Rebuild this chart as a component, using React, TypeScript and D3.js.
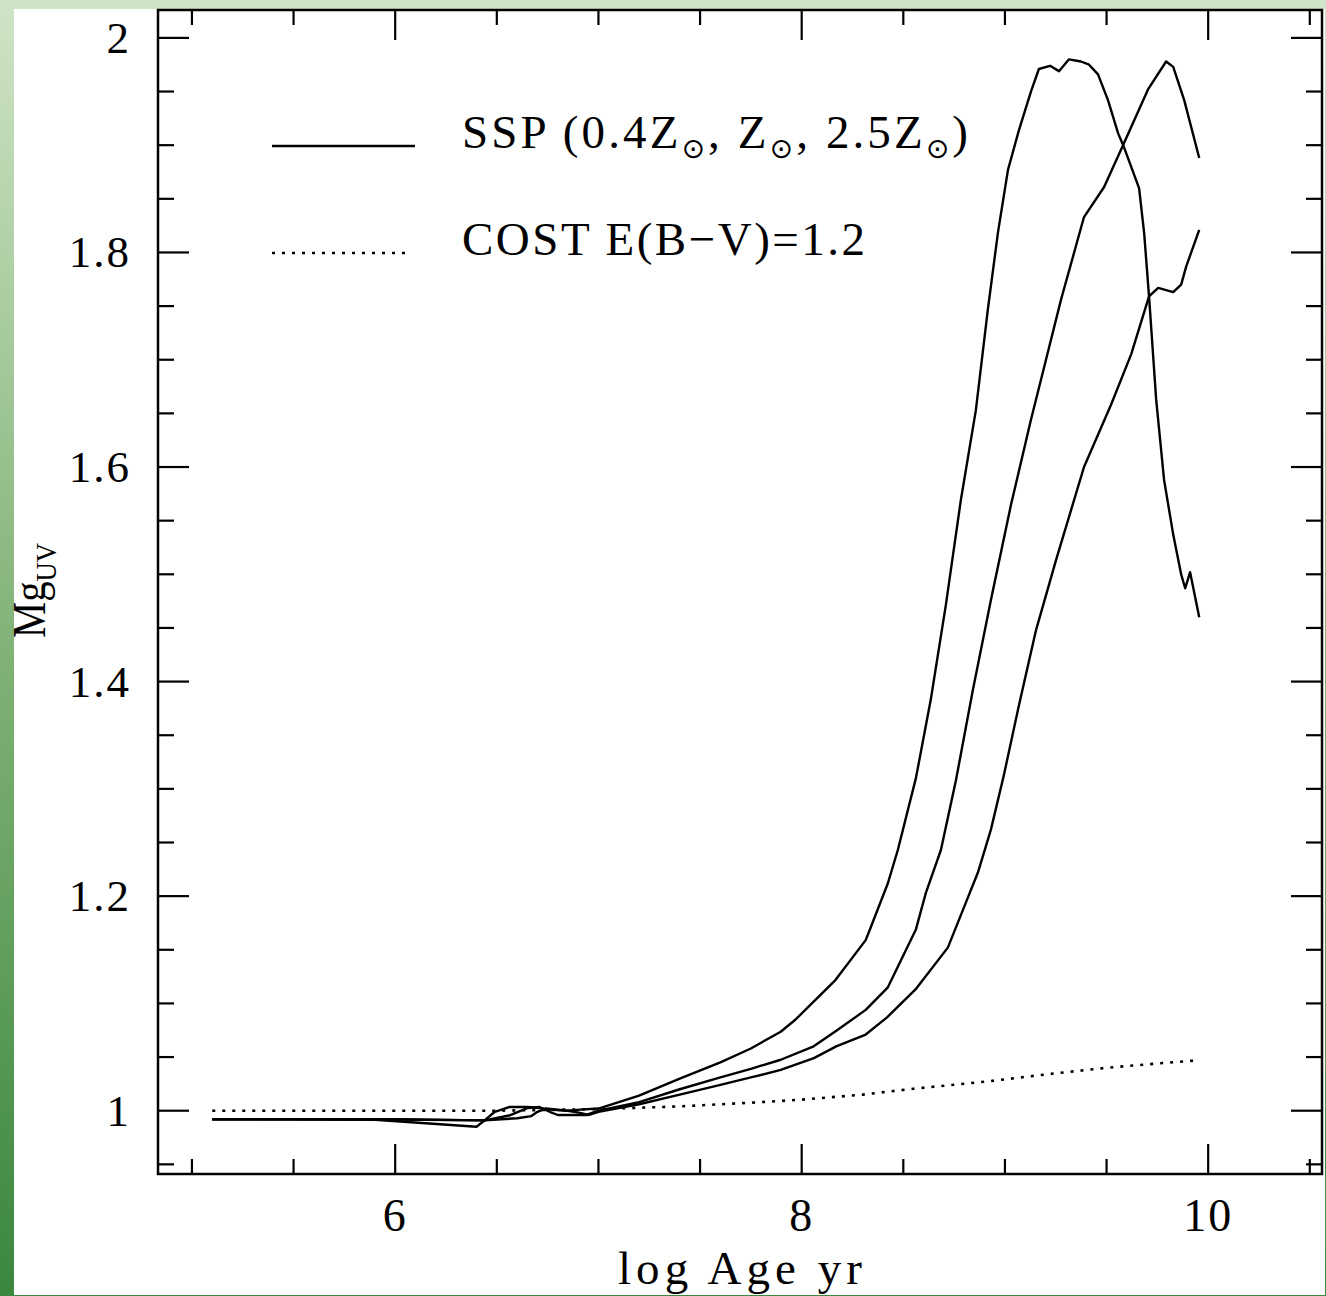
import React, { useEffect } from "react";
import * as d3 from "d3";

// ---- data (log Age yr, Mg_UV) ----
const ageA = [5.1, 5.5, 5.9, 6.4, 6.44, 6.49, 6.56, 6.65, 6.71, 6.76, 6.85, 6.91, 7.0, 7.2, 7.4, 7.6, 7.75,
  7.897, 7.97, 8.167, 8.315, 8.34, 8.424, 8.473, 8.562, 8.635, 8.709, 8.783, 8.857, 8.916, 8.966, 9.015, 9.069,
  9.128, 9.167, 9.222, 9.266, 9.315, 9.374, 9.414, 9.458, 9.507, 9.557, 9.586, 9.66, 9.685, 9.709, 9.744,
  9.783, 9.828, 9.867, 9.887, 9.911, 9.956];
const mgA = [0.992, 0.992, 0.9916, 0.985, 0.991, 0.999, 1.0034, 1.0034, 1.0025, 1.001, 1.0, 1.001, 1.002, 1.014,
  1.03, 1.045, 1.058, 1.0736, 1.085, 1.122, 1.159, 1.171, 1.212, 1.243, 1.31, 1.383, 1.471, 1.569, 1.653, 1.747,
  1.819, 1.877, 1.914, 1.95, 1.971, 1.974, 1.969, 1.98, 1.978, 1.975, 1.966, 1.942, 1.911, 1.898, 1.86, 1.818,
  1.759, 1.663, 1.588, 1.537, 1.5, 1.487, 1.502, 1.46];

const ageB = [5.1, 6.0, 6.44, 6.56, 6.65, 6.71, 6.76, 6.8, 6.94, 7.0, 7.2, 7.4, 7.6, 7.75, 7.897, 8.059, 8.167,
  8.315, 8.424, 8.562, 8.611, 8.685, 8.759, 8.842, 8.931, 9.03, 9.128, 9.202, 9.276, 9.389, 9.488, 9.586, 9.704,
  9.793, 9.828, 9.882, 9.956];
const mgB = [0.992, 0.992, 0.991, 0.9955, 1.0025, 1.0034, 0.999, 0.996, 0.996, 1.0, 1.008, 1.02, 1.031, 1.039,
  1.0475, 1.06, 1.074, 1.094, 1.115, 1.169, 1.203, 1.243, 1.308, 1.392, 1.476, 1.565, 1.644, 1.7, 1.756, 1.833,
  1.861, 1.902, 1.952, 1.978, 1.973, 1.942, 1.888];

const ageC = [5.1, 6.0, 6.44, 6.6, 6.67, 6.7, 6.74, 6.85, 6.91, 6.95, 7.0, 7.2, 7.4, 7.6, 7.75, 7.897, 8.06, 8.17,
  8.315, 8.42, 8.56, 8.719, 8.793, 8.867, 8.931, 8.995, 9.069, 9.153, 9.251, 9.389, 9.522, 9.621, 9.709, 9.754,
  9.828, 9.867, 9.892, 9.956];
const mgC = [0.992, 0.9918, 0.991, 0.993, 0.995, 0.999, 1.002, 1.0, 0.998, 0.996, 0.999, 1.006, 1.015, 1.024,
  1.031, 1.038, 1.049, 1.06, 1.071, 1.087, 1.113, 1.152, 1.187, 1.222, 1.262, 1.313, 1.378, 1.448, 1.513, 1.6,
  1.658, 1.705, 1.759, 1.767, 1.763, 1.77, 1.787, 1.821];

const ageCost = [5.1, 6.0, 6.5, 7.0, 7.4, 7.8, 8.0, 8.3, 8.55, 8.9, 9.21, 9.5, 9.75, 9.95];
const mgCost = [1.0, 1.0, 1.0, 1.0015, 1.004, 1.008, 1.0103, 1.015, 1.0205, 1.027, 1.034, 1.04, 1.044, 1.047];

const xMajorTicks = [6, 8, 10];
const xTickLabels = ["6", "8", "10"];
const yMajorTicks = [1, 1.2, 1.4, 1.6, 1.8, 2];
const yTickLabels = ["1", "1.2", "1.4", "1.6", "1.8", "2"];

const W = 1326;
const H = 1296;
const FONT = "'Liberation Serif', 'DejaVu Serif', serif";

export default function App() {
  useEffect(() => {
    document.body.style.margin = "0";
  }, []);

  const x = d3.scaleLinear().domain([4.833, 10.56]).range([158, 1322]);
  const y = d3.scaleLinear().domain([0.941, 2.026]).range([1174, 10]);
  const [x0, x1] = x.range();
  const [y0, y1] = y.range(); // y0 bottom, y1 top

  const xMinor = d3.range(5, 10.51, 0.5).filter((v) => !xMajorTicks.includes(v));
  const yMinor = d3.range(0.95, 2.001, 0.05).filter(
    (v) => !yMajorTicks.some((m) => Math.abs(m - v) < 1e-6)
  );

  const line = d3
    .line<[number, number]>()
    .x((d) => x(d[0]))
    .y((d) => y(d[1]));

  const zip = (a: number[], b: number[]) => a.map((v, i) => [v, b[i]] as [number, number]);
  const solids = [zip(ageA, mgA), zip(ageB, mgB), zip(ageC, mgC)];
  const cost = zip(ageCost, mgCost);

  const MAJ = 30;
  const MIN = 15;
  const sw = 2.4;
  const sun = { fontFamily: "'DejaVu Sans', sans-serif", fontSize: 28 };

  return (
    <svg
      width={W}
      height={H}
      viewBox={`0 0 ${W} ${H}`}
      style={{ position: "absolute", left: 0, top: 0, display: "block" }}
    >
      <defs>
        <linearGradient id="bg" x1="0" y1="0" x2="0" y2="1">
          <stop offset="0" stopColor="#d0e4c7" />
          <stop offset="0.46" stopColor="#87b67c" />
          <stop offset="1" stopColor="#3b873d" />
        </linearGradient>
      </defs>
      <rect x={0} y={0} width={W} height={H} fill="url(#bg)" />
      <rect x={14} y={9} width={1311} height={1286} fill="#ffffff" />

      {/* frame */}
      <rect x={x0} y={y1} width={x1 - x0} height={y0 - y1} fill="none" stroke="#000" strokeWidth={2.5} />

      {/* x ticks bottom and top */}
      {xMinor.map((v) => (
        <g key={"xm" + v}>
          <line x1={x(v)} x2={x(v)} y1={y0} y2={y0 - MIN} stroke="#000" strokeWidth={2.2} />
          <line x1={x(v)} x2={x(v)} y1={y1} y2={y1 + MIN} stroke="#000" strokeWidth={2.2} />
        </g>
      ))}
      {xMajorTicks.map((v) => (
        <g key={"xM" + v}>
          <line x1={x(v)} x2={x(v)} y1={y0} y2={y0 - MAJ} stroke="#000" strokeWidth={2.2} />
          <line x1={x(v)} x2={x(v)} y1={y1} y2={y1 + MAJ} stroke="#000" strokeWidth={2.2} />
        </g>
      ))}
      {/* y ticks left and right */}
      {yMinor.map((v) => (
        <g key={"ym" + v}>
          <line x1={x0} x2={x0 + MIN + 1} y1={y(v)} y2={y(v)} stroke="#000" strokeWidth={2.2} />
          <line x1={x1} x2={x1 - MIN - 1} y1={y(v)} y2={y(v)} stroke="#000" strokeWidth={2.2} />
        </g>
      ))}
      {yMajorTicks.map((v) => (
        <g key={"yM" + v}>
          <line x1={x0} x2={x0 + MAJ + 1} y1={y(v)} y2={y(v)} stroke="#000" strokeWidth={2.2} />
          <line x1={x1} x2={x1 - MAJ - 1} y1={y(v)} y2={y(v)} stroke="#000" strokeWidth={2.2} />
        </g>
      ))}

      {/* tick labels */}
      {xMajorTicks.map((v, i) => (
        <text
          key={"xl" + v}
          x={x(v)}
          y={1231}
          textAnchor="middle"
          fontFamily={FONT}
          fontSize={46}
          letterSpacing={2}
          fill="#000"
        >
          {xTickLabels[i]}
        </text>
      ))}
      {yMajorTicks.map((v, i) => (
        <text
          key={"yl" + v}
          x={131}
          y={y(v) + 15}
          textAnchor="end"
          fontFamily={FONT}
          fontSize={45}
          letterSpacing={2}
          fill="#000"
        >
          {yTickLabels[i]}
        </text>
      ))}

      {/* axis labels */}
      <text x={618} y={1284} fontFamily={FONT} fontSize={47} textLength={244} lengthAdjust="spacing" fill="#000">
        log Age yr
      </text>
      <text
        transform="translate(45,638) rotate(-90)"
        x={0}
        y={0}
        fontFamily={FONT}
        fontSize={46}
        fill="#000"
        textLength={95}
        lengthAdjust="spacingAndGlyphs"
      >
        Mg
        <tspan fontSize={30} dy={11}>
          UV
        </tspan>
      </text>

      {/* curves */}
      {solids.map((s, i) => (
        <path
          key={"s" + i}
          d={line(s) || ""}
          fill="none"
          stroke="#000"
          strokeWidth={sw}
          strokeLinejoin="round"
        />
      ))}
      <path
        d={line(cost) || ""}
        fill="none"
        stroke="#000"
        strokeWidth={2.6}
        strokeDasharray="3 7"
      />

      {/* legend */}
      <line x1={272} x2={415} y1={146} y2={146} stroke="#000" strokeWidth={sw} />
      <line x1={272} x2={412} y1={253} y2={253} stroke="#000" strokeWidth={2.6} strokeDasharray="3 7" />
      <text x={462} y={148} fontFamily={FONT} fontSize={47} textLength={506} lengthAdjust="spacing" fill="#000">
        SSP (0.4Z
        <tspan {...sun} dy={10}>⊙</tspan>
        <tspan dy={-10}>, Z</tspan>
        <tspan {...sun} dy={10}>⊙</tspan>
        <tspan dy={-10}>, 2.5Z</tspan>
        <tspan {...sun} dy={10}>⊙</tspan>
        <tspan dy={-10}>)</tspan>
      </text>
      <text x={462} y={255} fontFamily={FONT} fontSize={47} textLength={403} lengthAdjust="spacing" fill="#000">
        COST E(B−V)=1.2
      </text>
    </svg>
  );
}
